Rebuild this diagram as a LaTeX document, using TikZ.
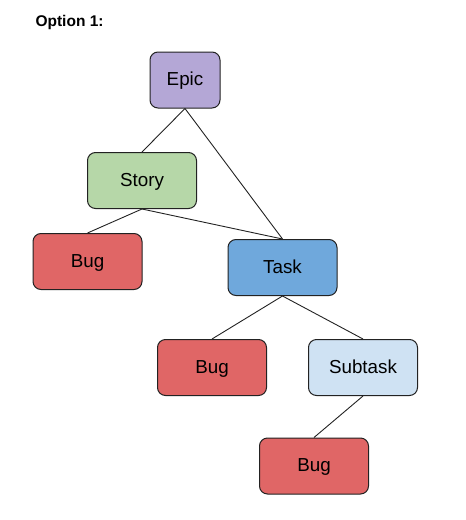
\documentclass[tikz,border=0pt]{standalone}
\usepackage{fontspec}
\setmainfont{Liberation Sans}
\definecolor{cepic}{HTML}{B4A7D6}
\definecolor{cstory}{HTML}{B6D7A8}
\definecolor{cbug}{HTML}{E06666}
\definecolor{ctask}{HTML}{6FA8DC}
\definecolor{csub}{HTML}{CFE2F3}
\definecolor{cline}{HTML}{222222}
\begin{document}
\begin{tikzpicture}[x=1pt,y=-1pt,
  box/.style={draw=cline,line width=1pt,rounded corners=8pt,minimum width=109pt,minimum height=56pt,inner sep=0pt,text height=13.5pt,text depth=2.5pt,font=\fontsize{18.8}{20}\selectfont},
  link/.style={draw=cline,line width=0.9pt}]
\useasboundingbox (0,0) rectangle (466,520);
\node[anchor=west,font=\bfseries\fontsize{15.5}{18}\selectfont] (title) at (32,22) {Option 1:};
\node[box,fill=cepic,minimum width=70pt] (epic) at (185,80) {Epic};
\node[box,fill=cstory] (story) at (142,180.5) {Story};
\node[box,fill=cbug] (bug1) at (87.5,261.5) {Bug};
\node[box,fill=ctask] (task) at (282.5,267.5) {Task};
\node[box,fill=cbug] (bug2) at (212,367.5) {Bug};
\node[box,fill=csub] (sub) at (363,367.5) {Subtask};
\node[box,fill=cbug] (bug3) at (314,466) {Bug};
\draw[link] (epic.south) -- (story.north);
\draw[link] (epic.south) -- (task.north);
\draw[link] (story.south) -- (bug1.north);
\draw[link] (story.south) -- (task.north);
\draw[link] (task.south) -- (bug2.north);
\draw[link] (task.south) -- (sub.north);
\draw[link] (sub.south) -- (bug3.north);
\end{tikzpicture}
\end{document}
